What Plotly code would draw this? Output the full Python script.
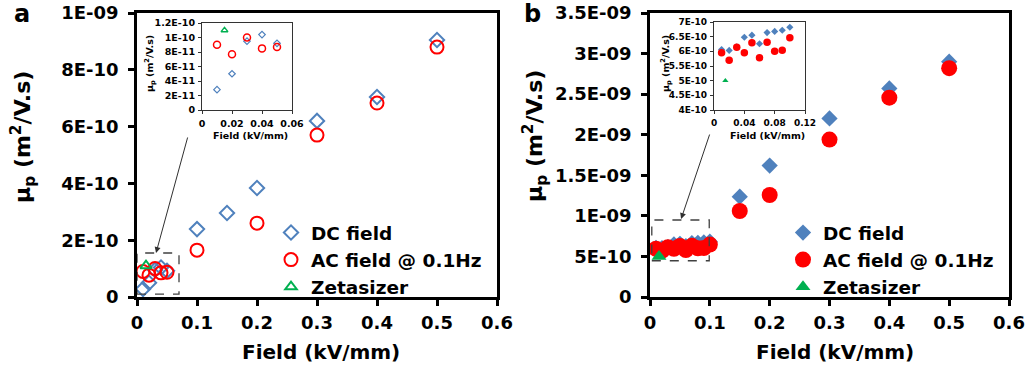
import plotly.graph_objects as go

# ---------------- data ----------------
# Panel a (open markers)
a_dc_x = [0.01, 0.02, 0.03, 0.04, 0.05, 0.1, 0.15, 0.2, 0.3, 0.4, 0.5]
a_dc_y = [2.8e-11, 5.0e-11, 9.5e-11, 1.04e-10, 9.2e-11, 2.39e-10, 2.96e-10, 3.84e-10, 6.2e-10, 7.04e-10, 9.05e-10]
a_ac_x = [0.01, 0.02, 0.03, 0.04, 0.05, 0.1, 0.2, 0.3, 0.4, 0.5]
a_ac_y = [9.0e-11, 7.7e-11, 1.0e-10, 8.5e-11, 8.7e-11, 1.65e-10, 2.6e-10, 5.7e-10, 6.83e-10, 8.8e-10]
a_zeta_x = [0.015]
a_zeta_y = [1.1e-10]

# Panel b (filled markers)
b_dc_x = [0.01, 0.02, 0.03, 0.04, 0.05, 0.06, 0.07, 0.08, 0.09, 0.1, 0.15, 0.2, 0.3, 0.4, 0.5]
b_dc_y = [6.06e-10, 6.03e-10, 6.15e-10, 6.48e-10, 6.55e-10, 6.26e-10, 6.64e-10, 6.68e-10, 6.72e-10, 6.82e-10,
          1.236e-9, 1.62e-9, 2.2e-9, 2.57e-9, 2.9e-9]
b_ac_x = [0.01, 0.02, 0.03, 0.04, 0.05, 0.06, 0.07, 0.08, 0.09, 0.1, 0.15, 0.2, 0.3, 0.4, 0.5]
b_ac_y = [5.95e-10, 5.70e-10, 6.14e-10, 5.95e-10, 6.29e-10, 5.78e-10, 6.31e-10, 6.0e-10, 6.04e-10, 6.46e-10,
          1.06e-9, 1.257e-9, 1.94e-9, 2.456e-9, 2.82e-9]
b_zeta_x = [0.015]
b_zeta_y = [5.0e-10]

# tick labels
main_x_ticks = [0, 0.1, 0.2, 0.3, 0.4, 0.5, 0.6]
main_x_text = ["0", "0.1", "0.2", "0.3", "0.4", "0.5", "0.6"]
a_y_ticks = [0, 2e-10, 4e-10, 6e-10, 8e-10, 1e-9]
a_y_text = ["0", "2E-10", "4E-10", "6E-10", "8E-10", "1E-09"]
b_y_ticks = [0, 5e-10, 1e-9, 1.5e-9, 2e-9, 2.5e-9, 3e-9, 3.5e-9]
b_y_text = ["0", "5E-10", "1E-09", "1.5E-09", "2E-09", "2.5E-09", "3E-09", "3.5E-09"]
ia_x_ticks = [0, 0.02, 0.04, 0.06]
ia_x_text = ["0", "0.02", "0.04", "0.06"]
ia_y_ticks = [0, 2e-11, 4e-11, 6e-11, 8e-11, 1e-10, 1.2e-10]
ia_y_text = ["0", "2E-11", "4E-11", "6E-11", "8E-11", "1E-10", "1.2E-10"]
ib_x_ticks = [0, 0.04, 0.08, 0.12]
ib_x_text = ["0", "0.04", "0.08", "0.12"]
ib_y_ticks = [4e-10, 4.5e-10, 5e-10, 5.5e-10, 6e-10, 6.5e-10, 7e-10]
ib_y_text = ["4E-10", "4.5E-10", "5E-10", "5.5E-10", "6E-10", "6.5E-10", "7E-10"]

# ---------------- style ----------------
W, H = 1031, 371
BLUE = "#4F81BD"
RED = "#FF0000"
GREEN = "#00B050"
FONT = "DejaVu Sans"


def px(x0, x1):
    return [x0 / W, x1 / W]


def py(top, bottom):
    return [1 - bottom / H, 1 - top / H]


fig = go.Figure()

# Panel a main
fig.add_trace(go.Scatter(x=a_dc_x, y=a_dc_y, mode="markers", name="DC field", xaxis="x", yaxis="y",
                         marker=dict(symbol="diamond-open", size=11, color=BLUE, line=dict(width=2, color=BLUE)),
                         cliponaxis=False, legend="legend"))
fig.add_trace(go.Scatter(x=a_ac_x, y=a_ac_y, mode="markers", name="AC field @ 0.1Hz", xaxis="x", yaxis="y",
                         marker=dict(symbol="circle-open", size=13, color=RED, line=dict(width=2, color=RED)),
                         cliponaxis=False, legend="legend"))
fig.add_trace(go.Scatter(x=a_zeta_x, y=a_zeta_y, mode="markers", name="Zetasizer", xaxis="x", yaxis="y",
                         marker=dict(symbol="triangle-up-open", size=10, color=GREEN, line=dict(width=2, color=GREEN)),
                         cliponaxis=False, legend="legend"))

# Panel b main
fig.add_trace(go.Scatter(x=b_dc_x, y=b_dc_y, mode="markers", name="DC field", xaxis="x2", yaxis="y2",
                         marker=dict(symbol="diamond", size=12.5, color=BLUE),
                         cliponaxis=False, legend="legend2"))
fig.add_trace(go.Scatter(x=b_ac_x, y=b_ac_y, mode="markers", name="AC field @ 0.1Hz", xaxis="x2", yaxis="y2",
                         marker=dict(symbol="circle", size=16, color=RED),
                         cliponaxis=False, legend="legend2"))
fig.add_trace(go.Scatter(x=b_zeta_x, y=b_zeta_y, mode="markers", name="Zetasizer", xaxis="x2", yaxis="y2",
                         marker=dict(symbol="triangle-up", size=13, color=GREEN),
                         cliponaxis=False, legend="legend2"))

# Inset a
fig.add_trace(go.Scatter(x=a_dc_x[:5], y=a_dc_y[:5], mode="markers", xaxis="x3", yaxis="y3", showlegend=False,
                         marker=dict(symbol="diamond-open", size=5, color=BLUE, line=dict(width=1.2, color=BLUE)),
                         cliponaxis=False))
fig.add_trace(go.Scatter(x=a_ac_x[:5], y=a_ac_y[:5], mode="markers", xaxis="x3", yaxis="y3", showlegend=False,
                         marker=dict(symbol="circle-open", size=7, color=RED, line=dict(width=1.5, color=RED)),
                         cliponaxis=False))
fig.add_trace(go.Scatter(x=a_zeta_x, y=a_zeta_y, mode="markers", xaxis="x3", yaxis="y3", showlegend=False,
                         marker=dict(symbol="triangle-up-open", size=6, color=GREEN, line=dict(width=1.3, color=GREEN)),
                         cliponaxis=False))

# Inset b
fig.add_trace(go.Scatter(x=b_dc_x[:10], y=b_dc_y[:10], mode="markers", xaxis="x4", yaxis="y4", showlegend=False,
                         marker=dict(symbol="diamond", size=5.5, color=BLUE), cliponaxis=False))
fig.add_trace(go.Scatter(x=b_ac_x[:10], y=b_ac_y[:10], mode="markers", xaxis="x4", yaxis="y4", showlegend=False,
                         marker=dict(symbol="circle", size=7.5, color=RED), cliponaxis=False))
fig.add_trace(go.Scatter(x=b_zeta_x, y=b_zeta_y, mode="markers", xaxis="x4", yaxis="y4", showlegend=False,
                         marker=dict(symbol="triangle-up", size=5.5, color=GREEN), cliponaxis=False))

tickfont_main = dict(family=FONT, size=18, color="#000", weight="bold")
tickfont_in = dict(family=FONT, size=9.5, color="#000", weight="bold")
tickfont_in_b = dict(family=FONT, size=9, color="#000", weight="bold")


def main_axis(domain, anchor, tickvals, ticktext, rng, standoff):
    return dict(domain=domain, anchor=anchor, range=rng, tickvals=tickvals, ticktext=ticktext,
                showline=True, linewidth=2.5, linecolor="#000", mirror=True, ticks="outside",
                ticklen=6, tickwidth=2.5, tickcolor="#000", showgrid=False, zeroline=False,
                tickfont=tickfont_main, fixedrange=True, automargin=False, ticklabelstandoff=standoff)


def inset_axis(domain, anchor, tickvals, ticktext, rng, font):
    return dict(domain=domain, anchor=anchor, range=rng, tickvals=tickvals, ticktext=ticktext,
                showline=True, linewidth=1.2, linecolor="#333", mirror=True, ticks="outside",
                ticklen=3, tickwidth=1.2, tickcolor="#333", showgrid=False, zeroline=False,
                tickfont=font, fixedrange=True, ticklabelstandoff=1, automargin=False)


fig.update_layout(
    width=W, height=H, margin=dict(l=0, r=0, t=0, b=0, autoexpand=False),
    paper_bgcolor="white", plot_bgcolor="white",
    xaxis=main_axis(px(137, 497), "y", main_x_ticks, main_x_text, [0, 0.6], 2),
    yaxis=main_axis(py(13, 297), "x", a_y_ticks, a_y_text, [0, 1e-9], 6),
    xaxis2=main_axis(px(650, 1009), "y2", main_x_ticks, main_x_text, [0, 0.6], 2),
    yaxis2=main_axis(py(13, 297), "x2", b_y_ticks, b_y_text, [0, 3.5e-9], 6),
    xaxis3=inset_axis(px(202, 292), "y3", ia_x_ticks, ia_x_text, [0, 0.06], tickfont_in),
    yaxis3=inset_axis(py(23, 110), "x3", ia_y_ticks, ia_y_text, [0, 1.2e-10], tickfont_in),
    xaxis4=inset_axis(px(714, 805), "y4", ib_x_ticks, ib_x_text, [0, 0.12], tickfont_in_b),
    yaxis4=inset_axis(py(22, 110), "x4", ib_y_ticks, ib_y_text, [4e-10, 7e-10], tickfont_in_b),
    legend=dict(x=271 / W, y=1 - 214 / H, xanchor="left", yanchor="top", bgcolor="rgba(0,0,0,0)",
                font=dict(family=FONT, size=18.5, color="#000", weight="bold"), tracegroupgap=0,
                itemsizing="trace"),
    legend2=dict(x=783 / W, y=1 - 214 / H, xanchor="left", yanchor="top", bgcolor="rgba(0,0,0,0)",
                 font=dict(family=FONT, size=18.5, color="#000", weight="bold"), tracegroupgap=0,
                 itemsizing="trace"),
)

# Dashed zoom boxes
fig.add_shape(type="rect", xref="x", yref="y", x0=0.0, x1=0.07, y0=1e-11, y1=1.55e-10,
              line=dict(color="#404040", width=1.3, dash="dash"))
fig.add_shape(type="rect", xref="x2", yref="y2", x0=0.003, x1=0.099, y0=4.47e-10, y1=9.49e-10,
              line=dict(color="#404040", width=1.3, dash="dash"))

# Arrows
fig.add_annotation(x=0.0317, y=1.55e-10, xref="x", yref="y", ax=32, ay=-117, axref="pixel", ayref="pixel",
                   text="", showarrow=True, arrowhead=2, arrowsize=1.2, arrowwidth=1, arrowcolor="#303030")
fig.add_annotation(x=0.052, y=9.61e-10, xref="x2", yref="y2", ax=29, ay=-86, axref="pixel", ayref="pixel",
                   text="", showarrow=True, arrowhead=2, arrowsize=1.2, arrowwidth=1, arrowcolor="#303030")

title_font = dict(family=FONT, size=20, color="#000", weight="bold")
ytitle_font = dict(family=FONT, size=22, color="#000", weight="bold")
in_title_font = dict(family=FONT, size=9.5, color="#000", weight="bold")
ytitle = "μ<sub>p</sub> (m<sup>2</sup>/V.s)"

def ann(text, x, y, font, angle=0):
    fig.add_annotation(text=text, x=x / W, y=1 - y / H, xref="paper", yref="paper", showarrow=False,
                       font=font, textangle=angle, xanchor="center", yanchor="middle")

ann("Field (kV/mm)", 321, 352, title_font)
ann("Field (kV/mm)", 835, 352, title_font)
ann(ytitle, 23, 137, ytitle_font, -90)
ann(ytitle, 535, 136, ytitle_font, -90)
ann("Field (kV/mm)", 250, 135, in_title_font)
ann("Field (kV/mm)", 767, 135, in_title_font)
ann(ytitle, 150, 64, in_title_font, -90)
ann(ytitle, 666, 64, in_title_font, -90)
ann("a", 22, 14, dict(family=FONT, size=24, color="#000", weight="bold"))
ann("b", 532, 14, dict(family=FONT, size=24, color="#000", weight="bold"))

fig.write_html("out.html")
